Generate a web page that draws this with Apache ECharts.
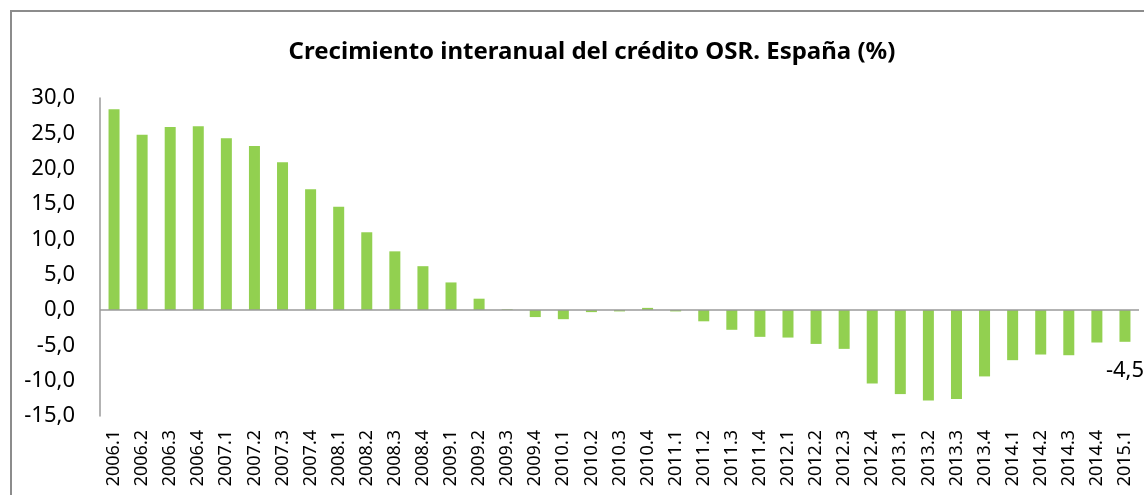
<!DOCTYPE html>
<html>
<head>
<meta charset="utf-8">
<title>Crecimiento interanual del crédito OSR</title>
<script src="https://cdn.jsdelivr.net/npm/echarts@6/dist/echarts.min.js"></script>
<style>
	html, body {
		margin: 0;
		padding: 0;
		background: #fff;
	}
	#chart {
		width: 1144px;
		height: 495px;
	}
</style>
</head>
<body>
<div id="chart"></div>
<script>
// trimestres
var quarters = [
	'2006.1', '2006.2', '2006.3', '2006.4',
	'2007.1', '2007.2', '2007.3', '2007.4',
	'2008.1', '2008.2', '2008.3', '2008.4',
	'2009.1', '2009.2', '2009.3', '2009.4',
	'2010.1', '2010.2', '2010.3', '2010.4',
	'2011.1', '2011.2', '2011.3', '2011.4',
	'2012.1', '2012.2', '2012.3', '2012.4',
	'2013.1', '2013.2', '2013.3', '2013.4',
	'2014.1', '2014.2', '2014.3', '2014.4',
	'2015.1'
];
// crecimiento interanual (%)
var growth = [
	28.4, 24.8, 25.9, 26.0,
	24.3, 23.2, 20.9, 17.1,
	14.6, 11.0, 8.3, 6.2,
	3.9, 1.6, 0.1, -1.0,
	-1.3, -0.3, -0.2, 0.3,
	-0.2, -1.6, -2.8, -3.8,
	-3.9, -4.8, -5.5, -10.4,
	-11.9, -12.8, -12.6, -9.4,
	-7.1, -6.3, -6.4, -4.6,
	-4.5
];
var yTicks = [-15, -10, -5, 0, 5, 10, 15, 20, 25, 30];

var fontFamily = '"Noto Sans", "DejaVu Sans", sans-serif';
var axisGray = '#9a9a9a';

// solo el ultimo trimestre lleva etiqueta
var barData = growth.map(function (v, i) {
	if (i === growth.length - 1) {
		return {
			value: v,
			label: {
				show: true,
				position: 'bottom',
				distance: 18,
				color: '#000',
				fontSize: 22,
				fontFamily: fontFamily,
				formatter: function (p) {
					return p.value.toFixed(1).replace('.', ',');
				}
			}
		};
	}
	return v;
});

var chart = echarts.init(document.getElementById('chart'));
chart.setOption({
	animation: false,
	title: {
		text: 'Crecimiento interanual del crédito OSR. España (%)',
		left: 587,
		top: 35,
		textAlign: 'center',
		textStyle: {
			color: '#000',
			fontSize: 24,
			fontWeight: 'bold',
			fontFamily: fontFamily
		}
	},
	graphic: [{
		type: 'rect',
		shape: { x: 11, y: 11, width: 1300, height: 700 },
		style: { fill: null, stroke: '#8c8c8c', lineWidth: 2 },
		silent: true
	}],
	grid: {
		left: 100,
		right: 5,
		top: 98,
		bottom: 79
	},
	xAxis: {
		type: 'category',
		data: quarters,
		axisLine: { show: false, onZero: false },
		axisTick: { show: false },
		axisLabel: {
			rotate: 90,
			margin: 14,
			interval: 0,
			color: '#000',
			fontSize: 18,
			fontFamily: fontFamily
		}
	},
	yAxis: {
		type: 'value',
		min: yTicks[0],
		max: yTicks[yTicks.length - 1],
		interval: 5,
		axisLine: {
			show: true,
			lineStyle: { color: axisGray, width: 1.5 }
		},
		axisTick: { show: false },
		splitLine: { show: false },
		axisLabel: {
			margin: 25,
			color: '#000',
			fontSize: 22,
			fontFamily: fontFamily,
			formatter: function (v) {
				return v.toFixed(1).replace('.', ',');
			}
		}
	},
	series: [{
		type: 'bar',
		data: barData,
		barWidth: 11,
		itemStyle: { color: '#92d050' },
		markLine: {
			silent: true,
			symbol: 'none',
			label: { show: false },
			lineStyle: { color: axisGray, width: 1.5, type: 'solid' },
			data: [{ yAxis: 0 }]
		}
	}]
});
</script>
</body>
</html>
